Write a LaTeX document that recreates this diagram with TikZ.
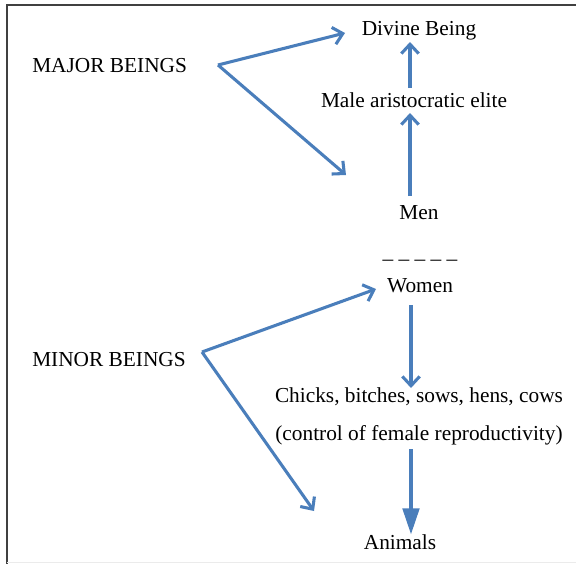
\documentclass[tikz,border=0pt]{standalone}
\usepackage{fontspec}
\setmainfont{Liberation Serif}
\usetikzlibrary{arrows.meta}
\definecolor{arrowblue}{RGB}{74,126,187}
\begin{document}
\begin{tikzpicture}[x=0.75pt,y=-0.75pt,
  lbl/.style={font=\fontsize{16}{18}\selectfont, inner sep=0pt, anchor=base},
  lblw/.style={lbl, anchor=base west},
  conn/.style={draw=arrowblue, line width=2.3pt, line cap=butt,
    -{Straight Barb[length=7pt,width=13pt,line width=2.3pt]}},
  bigconn/.style={draw=arrowblue, line width=3.6pt,
    -{Triangle[length=20pt,width=12pt]}}]
\useasboundingbox (0,0) rectangle (576,564);
\draw[line width=0.9pt, black!75] (7,564) -- (7,5) -- (576,5);
\draw[black!8, line width=0.75pt] (7,562.5) -- (576,562.5);

% texts
\node[lbl]  (divine) at (419,36)  {Divine Being};
\node[lblw] (major)  at (32,72)   {MAJOR BEINGS};
\node[lbl]  (elite)  at (414,108) {Male aristocratic elite};
\node[lbl]  (men)    at (419,219) {Men};
\node[lbl]  (dash)   at (420,258) {\_ \_ \_ \_ \_};
\node[lbl]  (women)  at (420,292) {Women};
\node[lblw] (minor)  at (32,366)  {MINOR BEINGS};
\node[lbl]  (chicks) at (419,402) {Chicks, bitches, sows, hens, cows};
\node[lbl]  (ctrl)   at (419,440) {(control of female reproductivity)};
\node[lbl]  (animals) at (400,549) {Animals};

% connector end points
\coordinate (majv) at (218,65);
\coordinate (majt1) at (345,33);
\coordinate (majt2) at (346,175);
\coordinate (minv) at (202,352);
\coordinate (mint1) at (376,289);
\coordinate (mint2) at (314,511);
\coordinate (menTop) at (410,196);
\coordinate (eliteBot) at (410,113);
\coordinate (eliteTop) at (410,88);
\coordinate (divBot) at (410,42);
\coordinate (womBot) at (411,305);
\coordinate (chkTop) at (411,388);
\coordinate (ctrlBot) at (411,449);
\coordinate (aniTop) at (411,535);

\draw[conn] (majv) -- (majt1);
\draw[conn] (majv) -- (majt2);
\draw[conn] (minv) -- (mint1);
\draw[conn] (minv) -- (mint2);
\draw[conn] (menTop) -- (eliteBot);
\draw[conn] (eliteTop) -- (divBot);
\draw[conn] (womBot) -- (chkTop);
\draw[bigconn] (ctrlBot) -- (aniTop);
\end{tikzpicture}
\end{document}
